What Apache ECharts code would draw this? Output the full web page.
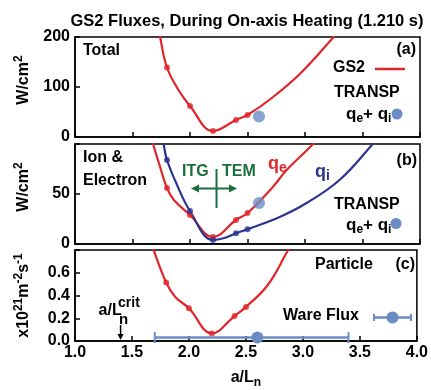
<!DOCTYPE html>
<html><head><meta charset="utf-8">
<script src="https://cdn.jsdelivr.net/npm/echarts@6/dist/echarts.min.js"></script>
<style>html,body{margin:0;padding:0;background:#fff}#c{width:431px;height:390px}</style>
</head><body><div id="c"></div>
<script>
// ---- data ----
const xTicks = [1.0, 1.5, 2.0, 2.5, 3.0, 3.5, 4.0];
const yTicksTotal = [0, 100, 200];
const yTicksIonEl = [0, 50, 100];
const yTicksParticle = [0, 0.2, 0.4, 0.6, 0.8];

// GS2 run points (markers)
const gs2X = [1.8, 2.0, 2.2, 2.4, 2.5];
const totalMarks = [139, 62, 12, 34, 44];
const qeMarks = [56, 29, 7, 24, 31];
const qiMarks = [84, 33, 4, 10.7, 14.7];
const particleMarks = [0.514, 0.288, 0.067, 0.219, 0.30];

// GS2 fitted curves (traced)
const totalCurveX = [1.70, 1.74, 1.8, 1.9, 2.0, 2.2, 2.4, 2.5, 2.7, 2.95, 3.25, 3.32];
const totalCurveY = [250, 200, 139, 94, 62, 12, 34, 44, 76, 125, 200, 218];
const qeCurveX = [1.65, 1.68, 1.74, 1.8, 1.86, 2.0, 2.2, 2.4, 2.5, 2.72, 2.84, 3.07, 3.12];
const qeCurveY = [115, 100, 77, 56, 44, 29, 7, 24, 31, 57, 74, 100, 108];
const qiCurveX = [1.75, 1.77, 1.8, 1.88, 2.0, 2.2, 2.29, 2.4, 2.5, 2.78, 3.01, 3.30, 3.59, 3.65];
const qiCurveY = [112, 100, 84, 61, 33, 4, 5.7, 10.7, 14.7, 27, 40.7, 64, 100, 108];
const particleCurveX = [1.66, 1.69, 1.8, 1.88, 2.0, 2.2, 2.4, 2.5, 2.69, 2.87, 2.9];
const particleCurveY = [0.9, 0.8, 0.514, 0.387, 0.288, 0.067, 0.219, 0.30, 0.49, 0.8, 0.85];

// TRANSP and Ware flux
const transpX = [2.6];
const transpTotal = [41];
const transpIonEl = [41];
const wareX = [2.6];
const wareY = [0.03];
const wareLo = [1.7];
const wareHi = [3.4];
const critX = 1.4;

// ---- styling ----
const RED = '#e0262b', BLUE = '#2b3590', STEEL = '#6a8cc4', GREEN = '#1a6e3c';
const FF = "'Liberation Sans', Arial, Helvetica, sans-serif";
const pairs = (xs, ys) => xs.map((x, i) => [x, ys[i]]);

const chart = echarts.init(document.getElementById('c'), null, {renderer: 'canvas'});

const gridTops = [37, 144, 250];
const grids = gridTops.map(t => ({left: 75, width: 345, top: t, height: 100, show: true,
  borderColor: '#000', borderWidth: 1.5, backgroundColor: 'transparent'}));

const xAxes = [0, 1, 2].map(i => ({
  type: 'value', gridIndex: i, min: xTicks[0], max: xTicks[xTicks.length - 1],
  interval: xTicks[1] - xTicks[0],
  axisLine: {lineStyle: {color: '#000', width: 1.5}},
  axisTick: {inside: true, length: 5, lineStyle: {color: '#000', width: 1.5}},
  splitLine: {show: false},
  axisLabel: {show: i === 2, color: '#000', fontSize: 16, fontWeight: 'bold', fontFamily: FF, margin: 4,
    formatter: v => v.toFixed(1)},
  name: i === 2 ? '{m|a/L}{sub|n}' : '', nameLocation: 'middle', nameGap: 26,
  nameTextStyle: {rich: {
    m: {fontSize: 16, fontWeight: 'bold', fontFamily: FF, color: '#000', lineHeight: 22},
    sub: {fontSize: 12, fontWeight: 'bold', fontFamily: FF, color: '#000', lineHeight: 10, verticalAlign: 'bottom'}}}
}));

const nameRich = {
  m: {fontSize: 16, fontWeight: 'bold', fontFamily: FF, color: '#000', lineHeight: 22},
  sup: {fontSize: 12, fontWeight: 'bold', fontFamily: FF, color: '#000', lineHeight: 8, verticalAlign: 'top'}
};
const yTickSets = [yTicksTotal, yTicksIonEl, yTicksParticle];
const yNames = ['{m|W/cm}{sup|2}', '{m|W/cm}{sup|2}', '{m|x10}{sup|21}{m|m}{sup|-2}{m|s}{sup|-1}'];
const yAxes = [0, 1, 2].map(i => {
  const t = yTickSets[i];
  return {
    type: 'value', gridIndex: i, min: t[0], max: t[t.length - 1], interval: t[1] - t[0],
    axisLine: {lineStyle: {color: '#000', width: 1.5}},
    axisTick: {inside: true, length: 5, lineStyle: {color: '#000', width: 1.5}},
    splitLine: {show: false},
    axisLabel: {color: '#000', fontSize: 16, fontWeight: 'bold', fontFamily: FF, margin: 5,
      formatter: v => {
        if (i === 1 && v === 100) return '';
        if (i === 2) return Math.abs(v - 0.8) < 1e-9 ? '' : v.toFixed(1);
        return String(v);
      }},
    name: yNames[i], nameLocation: 'middle', nameRotate: 90, nameGap: 40,
    nameTextStyle: {rich: nameRich, padding: i < 2 ? [0, 0, 0, 14] : 0}
  };
});

const lineS = (gi, xs, ys, color) => ({type: 'line', xAxisIndex: gi, yAxisIndex: gi, data: pairs(xs, ys),
  smooth: 0.4, showSymbol: false, symbol: 'none', lineStyle: {color, width: 2.2}, silent: true, z: 2, clip: true});
const markS = (gi, xs, ys, color) => ({type: 'scatter', xAxisIndex: gi, yAxisIndex: gi, data: pairs(xs, ys),
  symbolSize: 6, itemStyle: {color}, silent: true, z: 3});
const transpS = (gi, ys) => ({type: 'scatter', xAxisIndex: gi, yAxisIndex: gi, data: pairs(transpX, ys),
  symbolSize: 12, itemStyle: {color: STEEL}, silent: true, z: 4});

const series = [
  lineS(0, totalCurveX, totalCurveY, RED), markS(0, gs2X, totalMarks, RED), transpS(0, transpTotal),
  lineS(1, qeCurveX, qeCurveY, RED), markS(1, gs2X, qeMarks, RED),
  lineS(1, qiCurveX, qiCurveY, BLUE), markS(1, gs2X, qiMarks, BLUE), transpS(1, transpIonEl),
  lineS(2, particleCurveX, particleCurveY, RED), markS(2, gs2X, particleMarks, RED),
  {type: 'custom', xAxisIndex: 2, yAxisIndex: 2, silent: true, z: 4, clip: false,
    data: wareX.map((x, i) => [wareLo[i], wareHi[i], wareY[i], x]),
    encode: {x: [0, 1, 3], y: 2},
    renderItem: (params, api) => {
      const lo = api.coord([api.value(0), api.value(2)]);
      const hi = api.coord([api.value(1), api.value(2)]);
      const c = api.coord([api.value(3), api.value(2)]);
      const h = 5.5;
      return {type: 'group', children: [
        {type: 'line', shape: {x1: lo[0], y1: lo[1], x2: hi[0], y2: hi[1]}, style: {stroke: STEEL, lineWidth: 2.5}},
        {type: 'line', shape: {x1: lo[0], y1: lo[1] - h, x2: lo[0], y2: lo[1] + h}, style: {stroke: STEEL, lineWidth: 2}},
        {type: 'line', shape: {x1: hi[0], y1: hi[1] - h, x2: hi[0], y2: hi[1] + h}, style: {stroke: STEEL, lineWidth: 2}},
        {type: 'circle', shape: {cx: c[0], cy: c[1], r: 6}, style: {fill: STEEL}}
      ]};
    }}
];

const txt = (text, x, y, opts = {}) => ({type: 'text', x, y, z: 10, silent: true, style: Object.assign({
  text, fill: '#000', font: `bold 16px ${FF}`, textAlign: 'left', textVerticalAlign: 'middle'}, opts)});
const richQ = {
  m: {fontSize: 17, fontWeight: 'bold', fontFamily: FF, fill: '#000', lineHeight: 22},
  s: {fontSize: 12, fontWeight: 'bold', fontFamily: FF, fill: '#000', lineHeight: 10, verticalAlign: 'bottom'}
};

const graphics = [
  txt('GS2 Fluxes, During On-axis Heating (1.210 s)', 247, 21, {textAlign: 'center', font: `bold 16.5px ${FF}`}),
  // panel a
  txt('Total', 83, 51),
  txt('(a)', 416, 50, {textAlign: 'right'}),
  txt('GS2', 333, 68),
  {type: 'line', shape: {x1: 375, y1: 69, x2: 405, y2: 69}, style: {stroke: RED, lineWidth: 2.5}, z: 10, silent: true},
  txt('TRANSP', 334, 93),
  {type: 'text', x: 346, y: 114, z: 10, silent: true, style: {text: '{m|q}{s|e}{m|+ q}{s|i}', rich: richQ, textVerticalAlign: 'middle'}},
  {type: 'circle', shape: {cx: 397, cy: 114, r: 5.5}, style: {fill: STEEL}, z: 10, silent: true},
  // panel b
  txt('Ion &', 83, 158),
  txt('Electron', 83, 181),
  txt('(b)', 417, 161, {textAlign: 'right'}),
  {type: 'text', x: 268, y: 164, z: 10, silent: true, style: {text: '{m|q}{s|e}', textVerticalAlign: 'middle', rich: {
    m: Object.assign({}, richQ.m, {fill: RED, fontSize: 18}), s: Object.assign({}, richQ.s, {fill: RED, fontSize: 14})}}},
  {type: 'text', x: 315, y: 172, z: 10, silent: true, style: {text: '{m|q}{s|i}', textVerticalAlign: 'middle', rich: {
    m: Object.assign({}, richQ.m, {fill: BLUE, fontSize: 18}), s: Object.assign({}, richQ.s, {fill: BLUE, fontSize: 14})}}},
  txt('ITG', 182, 172, {fill: GREEN}),
  txt('TEM', 222, 172, {fill: GREEN}),
  {type: 'line', shape: {x1: 216.5, y1: 169, x2: 216.5, y2: 208}, style: {stroke: GREEN, lineWidth: 2}, z: 10, silent: true},
  {type: 'line', shape: {x1: 197, y1: 188.5, x2: 231, y2: 188.5}, style: {stroke: GREEN, lineWidth: 2}, z: 10, silent: true},
  {type: 'polygon', shape: {points: [[191, 188.5], [199, 184.5], [199, 192.5]]}, style: {fill: GREEN}, z: 10, silent: true},
  {type: 'polygon', shape: {points: [[237, 188.5], [229, 184.5], [229, 192.5]]}, style: {fill: GREEN}, z: 10, silent: true},
  txt('TRANSP', 334, 205),
  {type: 'text', x: 346, y: 225, z: 10, silent: true, style: {text: '{m|q}{s|e}{m|+ q}{s|i}', rich: richQ, textVerticalAlign: 'middle'}},
  {type: 'circle', shape: {cx: 396, cy: 223.5, r: 5.5}, style: {fill: STEEL}, z: 10, silent: true},
  // panel c
  txt('Particle', 315, 265),
  txt('(c)', 415, 265, {textAlign: 'right'}),
  txt('Ware Flux', 283, 316),
  {type: 'line', shape: {x1: 374, y1: 317.5, x2: 411, y2: 317.5}, style: {stroke: STEEL, lineWidth: 2.5}, z: 10, silent: true},
  {type: 'line', shape: {x1: 374, y1: 314, x2: 374, y2: 321}, style: {stroke: STEEL, lineWidth: 2}, z: 10, silent: true},
  {type: 'line', shape: {x1: 411, y1: 314, x2: 411, y2: 321}, style: {stroke: STEEL, lineWidth: 2}, z: 10, silent: true},
  {type: 'circle', shape: {cx: 392.5, cy: 317.5, r: 6}, style: {fill: STEEL}, z: 10, silent: true}
];

chart.setOption({
  animation: false,
  backgroundColor: '#fff',
  grid: grids, xAxis: xAxes, yAxis: yAxes, series, graphic: graphics
});

// critical gradient annotation, positioned through the axis scale
const cp = chart.convertToPixel({xAxisIndex: 2, yAxisIndex: 2}, [critX, 0]);
const cx = cp[0], by = cp[1];
graphics.push(
  txt('a/L', cx - 22, by - 30, {font: `bold 16px ${FF}`}),
  txt('crit', cx - 2.5, by - 38, {font: `bold 14px ${FF}`}),
  txt('n', cx - 1.5, by - 21, {font: `bold 15px ${FF}`}),
  {type: 'line', shape: {x1: cx, y1: by - 16, x2: cx, y2: by - 6}, style: {stroke: '#000', lineWidth: 1.5}, z: 10, silent: true},
  {type: 'polygon', shape: {points: [[cx, by - 1], [cx - 3, by - 7], [cx + 3, by - 7]]}, style: {fill: '#000'}, z: 10, silent: true}
);
chart.setOption({graphic: graphics});
</script></body></html>
